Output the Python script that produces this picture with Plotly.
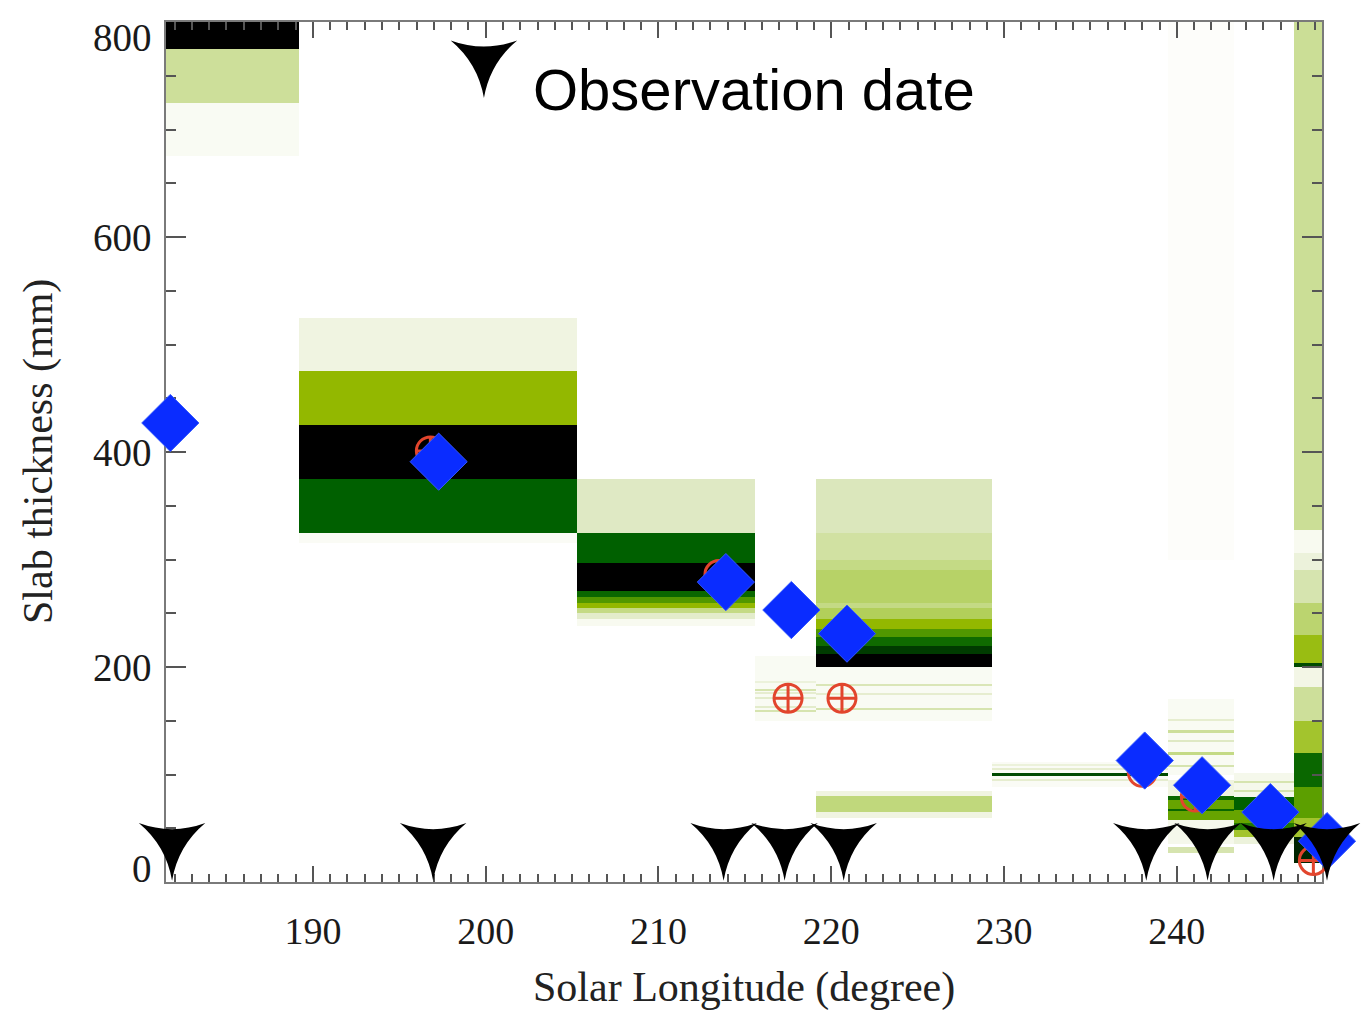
import plotly.graph_objects as go

# Solar longitude edges of the retrieval columns (degree)
col_edges = [181.5, 189.2, 205.3, 215.6, 219.1, 229.3, 239.5, 243.3, 246.8, 248.4]

# Probability bins of each column: (bottom mm, top mm, normalized probability)
col1_bins = [(675, 725, 0.05), (725, 775, 0.35), (775, 800, 1.0)]
col2_bins = [(315, 325, 0.04), (325, 375, 0.87), (375, 425, 1.0), (425, 475, 0.6), (475, 525, 0.12)]
col3_bins = [(238, 245, 0.06), (245, 250, 0.22), (250, 255, 0.4), (255, 260, 0.6), (260, 265, 0.72),
             (265, 271, 0.85), (271, 297, 1.0), (297, 325, 0.87), (325, 375, 0.25)]
col4_bins = [(150, 210, 0.05), (158, 160, 0.3), (162, 164, 0.22), (170, 172, 0.22),
             (175, 176, 0.2), (178, 180, 0.3), (185, 187, 0.15)]
col5_bins = [(60, 85, 0.12), (65, 80, 0.42), (150, 200, 0.05), (160, 162, 0.3), (174, 176, 0.2),
             (182, 184, 0.28), (200, 212, 1.0), (212, 220, 0.92), (220, 228, 0.84), (228, 235, 0.72),
             (235, 245, 0.6), (245, 255, 0.5), (255, 260, 0.4), (260, 290, 0.47), (290, 300, 0.4),
             (300, 325, 0.33), (325, 375, 0.27)]
col6_bins = [(88, 112, 0.04), (94, 96, 0.2), (99, 101, 0.9), (104, 106, 0.2), (108, 109, 0.15)]
col7_bins = [(300, 800, 0.02), (100, 170, 0.05), (107, 109, 0.3), (118, 121, 0.4), (130, 132, 0.25),
             (139, 141, 0.35), (150, 151, 0.2), (79, 95, 0.12), (76, 80, 0.85), (58, 76, 0.68),
             (66, 68, 0.85), (35, 58, 0.08), (27, 33, 0.3)]
col8_bins = [(79, 101, 0.08), (84, 86, 0.3), (92, 94, 0.3), (67, 79, 0.87), (55, 67, 0.68),
             (48, 55, 0.8), (42, 48, 0.55), (35, 42, 0.15)]
col9_bins = [(18, 42, 0.95), (42, 60, 0.55), (60, 88, 0.7), (88, 120, 0.85), (120, 150, 0.55),
             (150, 181, 0.35), (181, 200, 0.1), (200, 204, 0.9), (204, 230, 0.58), (230, 260, 0.45),
             (260, 290, 0.3), (290, 306, 0.15), (306, 327, 0.06), (327, 800, 0.36)]
column_bins = [col1_bins, col2_bins, col3_bins, col4_bins, col5_bins,
               col6_bins, col7_bins, col8_bins, col9_bins]

# Best-fit slab thickness (blue diamonds)
fit_ls = [181.75, 197.28, 213.9, 217.69, 220.91, 238.14, 241.46, 245.41, 248.69]
fit_mm = [427, 391, 279, 253, 231, 113, 90, 65, 38]

# Reference values (red crossed circles)
ref_ls = [196.8, 213.5, 217.5, 220.62, 238.0, 241.07, 247.9]
ref_mm = [401, 286, 171, 171, 102, 79, 20]

# Observation dates (solar longitude)
obs_ls = [181.85, 196.96, 213.77, 217.3, 220.72, 238.23, 241.78, 245.6, 248.69]

x_ticks = [190, 200, 210, 220, 230, 240]
y_ticks = [0, 200, 400, 600, 800]
x_range = [181.5, 248.4]
y_range = [0, 800]

green_scale = [
    [0.0, "#ffffff"], [0.1, "#f3f6e6"], [0.25, "#dfe9c4"], [0.35, "#cddf9a"],
    [0.5, "#b2cf5a"], [0.6, "#93b800"], [0.7, "#5c9f00"], [0.8, "#237a00"],
    [0.87, "#006000"], [1.0, "#000000"],
]

W, H = 1367, 1015
ML, MR, MT, MB = 166, 20, 22, 133
frame_right = 1322  # right edge of the framed panel (px)
plot_w = W - ML - MR
x_dom_end = (frame_right - ML) / plot_w
# marker axes spanning the full plot width with the same scale, so that
# markers just past the right frame are still drawn
x2_range = [x_range[0], x_range[0] + (x_range[1] - x_range[0]) / x_dom_end]

# flatten the column bins into bar segments
bx, bw, bbase, bh, bc = [], [], [], [], []
for i, bins in enumerate(column_bins):
    x0, x1 = col_edges[i], col_edges[i + 1]
    for lo, hi, p in bins:
        bx.append((x0 + x1) / 2)
        bw.append(x1 - x0)
        bbase.append(lo)
        bh.append(hi - lo)
        bc.append(p)

fig = go.Figure()
fig.add_trace(go.Bar(
    x=bx, y=bh, base=bbase, width=bw,
    marker=dict(color=bc, colorscale=green_scale, cmin=0, cmax=1, line=dict(width=0)),
    hoverinfo="skip", showlegend=False,
))

fig.add_trace(go.Scatter(
    x=ref_ls, y=ref_mm, xaxis="x2", yaxis="y2", mode="markers", cliponaxis=False, showlegend=False,
    marker=dict(symbol="circle-cross-open", size=28, color="#e2452d", line=dict(width=3, color="#e2452d")),
))

fig.add_trace(go.Scatter(
    x=fit_ls, y=fit_mm, xaxis="x2", yaxis="y2", mode="markers", cliponaxis=False, showlegend=False,
    marker=dict(symbol="diamond", size=44, color="#0a2cff", line=dict(width=1, color="#3358ff")),
))

fig.add_trace(go.Scatter(
    x=obs_ls, y=[37] * len(obs_ls), xaxis="x2", yaxis="y2", mode="markers", cliponaxis=False,
    showlegend=False,
    marker=dict(symbol="star-triangle-down", size=48, color="black", line=dict(width=0)),
))

# key for the observation-date marker
fig.add_trace(go.Scatter(
    x=[199.9], y=[765], xaxis="x2", yaxis="y2", mode="markers", cliponaxis=False, showlegend=False,
    marker=dict(symbol="star-triangle-down", size=48, color="black", line=dict(width=0)),
))
fig.add_annotation(x=202.6, y=737, xref="x", yref="y", text="Observation date", showarrow=False,
                   xanchor="left", yanchor="middle",
                   font=dict(family="Liberation Sans, Arial", size=58, color="black"))

serif = "Liberation Serif, Times New Roman, serif"
for v in y_ticks:
    shift = -15 if v == y_ticks[-1] else (14 if v == y_ticks[0] else 0)
    fig.add_annotation(x=0, xref="paper", y=v, yref="y", text=str(v), showarrow=False,
                       xanchor="right", yanchor="middle", xshift=-12, yshift=shift,
                       font=dict(family=serif, size=39, color="#1a1a1a"))

fig.add_annotation(x=x_dom_end / 2, xref="paper", y=0, yref="paper", text="Solar Longitude (degree)",
                   showarrow=False, xanchor="center", yanchor="middle", yshift=-105,
                   font=dict(family=serif, size=42, color="#222"))
fig.add_annotation(x=0, xref="paper", y=0.5, yref="paper", text="Slab thickness (mm)",
                   showarrow=False, xanchor="center", yanchor="middle", xshift=-128, textangle=-90,
                   font=dict(family=serif, size=42, color="#222"))

fig.update_layout(
    width=W, height=H,
    margin=dict(l=ML, r=MR, t=MT, b=MB),
    paper_bgcolor="white", plot_bgcolor="rgba(0,0,0,0)",
    barmode="overlay", bargap=0,
    showlegend=False,
    xaxis=dict(
        domain=[0, x_dom_end],
        range=x_range, tickvals=x_ticks, ticks="inside", ticklen=16, tickwidth=2, tickcolor="#555",
        showline=True, linecolor="#7a7a7a", linewidth=2, mirror="allticks",
        showgrid=False, zeroline=False, ticklabelstandoff=14,
        tickfont=dict(family=serif, size=38, color="#1a1a1a"),
        minor=dict(tick0=0, dtick=1, ticks="inside", ticklen=8, tickwidth=2, tickcolor="#555",
                   showgrid=False),
    ),
    yaxis=dict(
        range=y_range, tickvals=y_ticks, ticks="inside", ticklen=20, tickwidth=2, tickcolor="#555",
        showline=True, linecolor="#7a7a7a", linewidth=2, mirror="allticks",
        showgrid=False, zeroline=False, showticklabels=False,
        minor=dict(tick0=0, dtick=50, ticks="inside", ticklen=10, tickwidth=2, tickcolor="#555",
                   showgrid=False),
    ),
    xaxis2=dict(domain=[0, 1], range=x2_range, anchor="y2", visible=False),
    yaxis2=dict(domain=[0, 1], range=y_range, anchor="x2", visible=False),
)

fig.write_html("out.html")
